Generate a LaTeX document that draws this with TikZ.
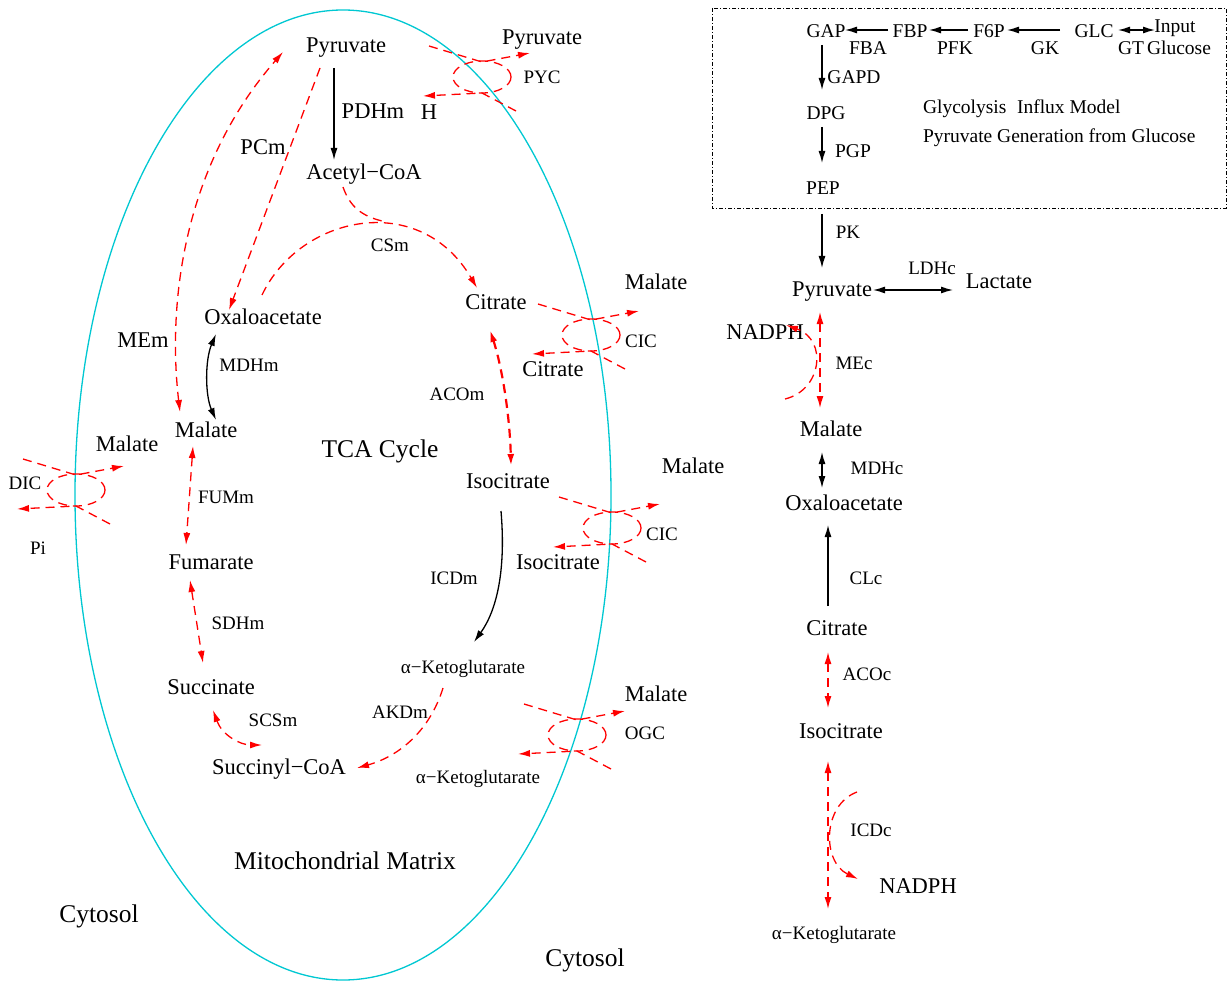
\documentclass[tikz,border=0pt]{standalone}
\usepackage{fontspec}
\setmainfont{Liberation Serif}
\usetikzlibrary{arrows.meta}
\begin{document}
\begin{tikzpicture}[x=1pt,y=-1pt,
  base/.style={inner sep=0pt,outer sep=0pt,text height=1.36em,text depth=0pt,anchor=center},
  M/.style={base,font=\fontsize{22.5}{26}\selectfont},
  S/.style={base,font=\fontsize{19}{22}\selectfont},
  G/.style={base,font=\fontsize{19.5}{22}\selectfont},
  B/.style={base,font=\fontsize{25.5}{30}\selectfont},
  tip/.tip={Latex[length=12pt,width=7pt]},
  rd/.style={red,line width=1.3pt,dash pattern=on 9pt off 6pt},
  blk/.style={black,line width=1.3pt},
  transp/.pic={
    \draw[rd,-tip] (-53,-31) -- (0,-15) -- (48,-24);
    \draw[rd,-tip] (34,34) -- (0,16) -- (-59,19);
    \draw[rd] (0,0) ellipse [x radius=29pt, y radius=16pt];
  }]
\useasboundingbox (0,0) rectangle (1228,984);
\fill[white] (0,0) rectangle (1228,984);

% membrane
\draw[line width=1.3pt,color={rgb,255:red,0;green,200;blue,210}] (343,495) ellipse [x radius=268pt, y radius=485pt];

% ===== matrix nodes =====
\node[M] (pyrm) at (346,46) {Pyruvate};
\node[M] (acoa) at (364,173) {Acetyl−CoA};
\node[M] (pdhm) at (373,112) {PDHm};
\node[M] (pcm) at (263,148) {PCm};
\node[M] (oaam) at (263,318) {Oxaloacetate};
\node[S] (mdhm) at (249,365) {MDHm};
\node[M] (mem) at (143,341) {MEm};
\node[M] (malm) at (206,431) {Malate};
\node[B] (tca) at (380,451) {TCA Cycle};
\node[M] (fumm) at (211,563) {Fumarate};
\node[S] (fumlab) at (226,497) {FUMm};
\node[S] (sdhm) at (238,623) {SDHm};
\node[M] (succ) at (211,688) {Succinate};
\node[S] (scsm) at (273,720) {SCSm};
\node[M] (succoa) at (279,768) {Succinyl−CoA};
\node[S] (akdm) at (400,712) {AKDm};
\node[S] (akgm) at (463,667) {α−Ketoglutarate};
\node[S] (icdm) at (454,578) {ICDm};
\node[M] (isocm) at (508,482) {Isocitrate};
\node[S] (acom) at (457,394) {ACOm};
\node[M] (citm) at (496,303) {Citrate};
\node[S] (csm) at (390,245) {CSm};
\node[B] (mito) at (345,863) {Mitochondrial Matrix};
\node[B] (cyt1) at (99,916) {Cytosol};
\node[B] (cyt2) at (585,960) {Cytosol};

% ===== transporter labels =====
\node[M] (pyro) at (542,38) {Pyruvate};
\node[S] (pyc) at (542,77) {PYC};
\node[M] (hlab) at (429,113) {H};
\node[M] (malo1) at (656,283) {Malate};
\node[S] (cic1) at (641,341) {CIC};
\node[M] (cito) at (553,370) {Citrate};
\node[M] (malo2) at (127,445) {Malate};
\node[S] (dic) at (25,483) {DIC};
\node[S] (pi) at (38,548) {Pi};
\node[M] (malo3) at (693,467) {Malate};
\node[S] (cic2) at (662,534) {CIC};
\node[M] (isoco) at (558,563) {Isocitrate};
\node[M] (malo4) at (656,695) {Malate};
\node[S] (ogc) at (645,733) {OGC};
\node[S] (akgo) at (478,777) {α−Ketoglutarate};

\pic at (482,77) {transp};
\pic at (591,335) {transp};
\pic at (76,490) {transp};
\pic at (612,528) {transp};
\pic at (577,735) {transp};

% ===== glycolysis box =====
\draw[line width=0.8pt,dash pattern=on 4pt off 2pt on 1pt off 2pt] (712,8) rectangle (1226,208);
\node[G] (gap) at (826,31) {GAP};
\node[G] (fbp) at (910,31) {FBP};
\node[G] (f6p) at (989,31) {F6P};
\node[G] (glc) at (1094,31) {GLC};
\node[G] (inp) at (1175,26) {Input};
\node[G] (gt) at (1131,48) {GT};
\node[G] (gluc) at (1179,48) {Glucose};
\node[G] (fba) at (868,48) {FBA};
\node[G] (pfk) at (955,48) {PFK};
\node[G] (gk) at (1045,48) {GK};
\node[G] (gapd) at (854,77) {GAPD};
\node[G] (dpg) at (826,113) {DPG};
\node[G] (pgp) at (853,151) {PGP};
\node[G] (pep) at (823,188) {PEP};
\node[G,anchor=west] (glyc) at (923,107) {Glycolysis};
\node[G,anchor=west] (infl) at (1017,107) {Influx Model};
\node[G,anchor=west] (pgen) at (923,136) {Pyruvate Generation from Glucose};

% ===== cytosol column =====
\node[S] (pk) at (848,232) {PK};
\node[M] (pyrc) at (832,290) {Pyruvate};
\node[S] (ldhc) at (932,268) {LDHc};
\node[M] (lac) at (999,282) {Lactate};
\node[M] (nadph1) at (765,333) {NADPH};
\node[S] (mec) at (854,363) {MEc};
\node[M] (malc) at (831,430) {Malate};
\node[S] (mdhc) at (877,468) {MDHc};
\node[M] (oaac) at (844,504) {Oxaloacetate};
\node[S] (clc) at (866,578) {CLc};
\node[M] (citc) at (837,629) {Citrate};
\node[S] (acoc) at (867,674) {ACOc};
\node[M] (isocc) at (841,732) {Isocitrate};
\node[S] (icdc) at (871,830) {ICDc};
\node[M] (nadph2) at (918,887) {NADPH};
\node[S] (akgc) at (834,933) {α−Ketoglutarate};

% ===== endpoints =====
\coordinate (a1) at (334,68);  \coordinate (a2) at (334,160);
\coordinate (m1) at (216,334); \coordinate (m2) at (216,420);
\coordinate (i1) at (501,511); \coordinate (i2) at (474,642);
\coordinate (g1) at (1118,30); \coordinate (g2) at (1155,30);
\coordinate (g3) at (1060,30); \coordinate (g4) at (1007,30);
\coordinate (g5) at (968,30);  \coordinate (g6) at (929,30);
\coordinate (g7) at (888,30);  \coordinate (g8) at (845,30);
\coordinate (g9) at (822,45);  \coordinate (g10) at (822,90);
\coordinate (g11) at (822,127); \coordinate (g12) at (822,163);
\coordinate (k1) at (822,214); \coordinate (k2) at (822,268);
\coordinate (l1) at (873,290); \coordinate (l2) at (953,290);
\coordinate (d1) at (822,452); \coordinate (d2) at (822,488);
\coordinate (c1) at (828,606); \coordinate (c2) at (828,525);

% ===== black reactions =====
\draw[blk,-tip] (a1) -- (a2);
\draw[blk,tip-tip] (m1) .. controls (205,360) and (205,395) .. (m2);
\draw[blk,-tip] (i1) .. controls (506,570) and (497,610) .. (i2);
\draw[blk,tip-tip] (g1) -- (g2);
\draw[blk,-tip] (g3) -- (g4);
\draw[blk,-tip] (g5) -- (g6);
\draw[blk,-tip] (g7) -- (g8);
\draw[blk,-tip] (g9) -- (g10);
\draw[blk,-tip] (g11) -- (g12);
\draw[blk,-tip] (k1) -- (k2);
\draw[blk,tip-tip] (l1) -- (l2);
\draw[blk,tip-tip] (d1) -- (d2);
\draw[blk,-tip] (c1) -- (c2);

% ===== red dashed reactions =====
\coordinate (pc1) at (320,68);  \coordinate (pc2) at (229,310);
\draw[rd,-tip] (pc1) -- (pc2);
\coordinate (me1) at (180,412); \coordinate (me2) at (283,52);
\draw[rd,tip-tip] (me1) .. controls (168,310) and (180,170) .. (me2);
\coordinate (cs1) at (262,295); \coordinate (cs2) at (477,288);
\draw[rd,-tip] (cs1) .. controls (300,215) and (420,190) .. (cs2);
\coordinate (cs3) at (343,187); \coordinate (cs4) at (382,221);
\draw[rd] (cs3) .. controls (350,207) and (362,216) .. (cs4);
\coordinate (ac1) at (490,330); \coordinate (ac2) at (511,466);
\draw[rd,line width=2.2pt,tip-tip] (ac1) .. controls (503,370) and (510,420) .. (ac2);
\coordinate (ak1) at (443,688); \coordinate (ak2) at (357,768);
\draw[rd,-tip] (ak1) .. controls (430,730) and (400,756) .. (ak2);
\coordinate (sc1) at (213,710); \coordinate (sc2) at (262,745);
\draw[rd,tip-tip] (sc1) .. controls (222,735) and (240,745) .. (sc2);
\coordinate (fu1) at (193,446); \coordinate (fu2) at (186,545);
\draw[rd,tip-tip] (fu1) -- (fu2);
\coordinate (sd1) at (190,580); \coordinate (sd2) at (203,663);
\draw[rd,tip-tip] (sd1) -- (sd2);
\coordinate (mc1) at (820,312); \coordinate (mc2) at (820,408);
\draw[rd,tip-tip] (mc1) -- (mc2);
\coordinate (mc3) at (785,399); \coordinate (mc4) at (786,325);
\draw[rd,-tip] (mc3) .. controls (822,390) and (828,340) .. (mc4);
\coordinate (ac3) at (828,652); \coordinate (ac4) at (828,708);
\draw[rd,tip-tip] (ac3) -- (ac4);
\coordinate (ic1) at (828,761); \coordinate (ic2) at (828,909);
\draw[rd,tip-tip] (ic1) -- (ic2);
\coordinate (ic3) at (857,792); \coordinate (ic4) at (858,879);
\draw[rd,-tip] (ic3) .. controls (822,805) and (822,862) .. (ic4);
\end{tikzpicture}
\end{document}
